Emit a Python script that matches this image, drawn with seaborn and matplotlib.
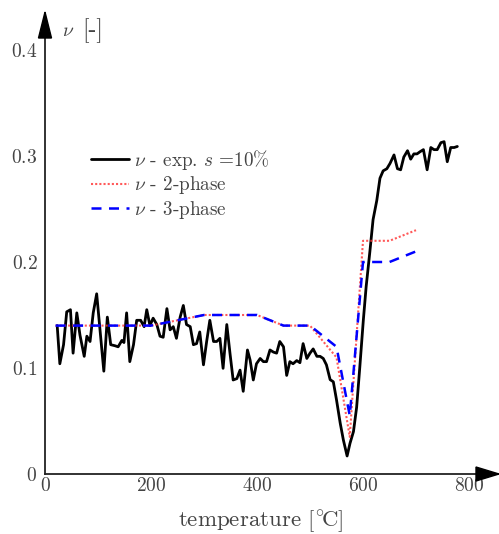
import numpy as np
import pandas as pd
import matplotlib
matplotlib.use("Agg")
import matplotlib.pyplot as plt
import seaborn as sns
from matplotlib.patches import Polygon
from matplotlib.ticker import MultipleLocator, FuncFormatter

# ---------------- data ----------------
exp_T = [23, 28, 35, 41, 48, 53, 60, 66, 74, 79, 85, 91, 97.5, 111, 117.6, 124, 132, 138,
         145, 149, 154, 160, 167, 173, 180.5, 187, 192, 198, 204, 211, 217, 223, 230, 236,
         242, 248, 255, 261, 267, 274, 280, 286, 292, 299, 305, 311, 318, 324, 330, 336,
         343, 349, 355, 362, 368, 374, 382, 387, 393, 399, 406, 412, 418, 424.5, 431, 437,
         443, 450, 456, 462, 468, 475, 481, 487, 494, 500, 506, 513, 519, 525, 531, 538,
         544, 550, 557, 563, 570, 575.5, 582, 588, 594, 600.6, 606, 613, 619, 626, 632,
         638, 645, 651, 658.5, 665, 671, 677, 684, 690, 696, 702, 707.5, 714, 721, 728,
         734, 740, 747, 753, 759, 765.5, 772, 778]
exp_nu = [0.140, 0.104, 0.122, 0.153, 0.155, 0.114, 0.152, 0.131, 0.111, 0.130, 0.125,
          0.152, 0.170, 0.097, 0.148, 0.122, 0.121, 0.120, 0.126, 0.124, 0.152, 0.106,
          0.122, 0.145, 0.145, 0.139, 0.155, 0.140, 0.147, 0.141, 0.130, 0.129, 0.156,
          0.136, 0.139, 0.128, 0.148, 0.159, 0.141, 0.139, 0.122, 0.123, 0.134, 0.103,
          0.125, 0.145, 0.125, 0.125, 0.128, 0.0997, 0.141, 0.114, 0.0887, 0.090, 0.098,
          0.078, 0.117, 0.1075, 0.0887, 0.104, 0.109, 0.106, 0.106, 0.117, 0.115, 0.114,
          0.125, 0.120, 0.093, 0.106, 0.104, 0.107, 0.105, 0.123, 0.109, 0.114, 0.118,
          0.111, 0.111, 0.109, 0.103, 0.089, 0.087, 0.070, 0.048, 0.032, 0.017, 0.029,
          0.040, 0.063, 0.101, 0.145, 0.177, 0.210, 0.240, 0.258, 0.279, 0.286, 0.288,
          0.293, 0.301, 0.288, 0.287, 0.299, 0.305, 0.297, 0.302, 0.302, 0.304, 0.306,
          0.287, 0.308, 0.306, 0.306, 0.3126, 0.3135, 0.2946, 0.308, 0.308, 0.309]

two_T = [20, 200, 300, 400, 450, 500, 550, 575, 600, 650, 700]
two_nu = [0.14, 0.14, 0.15, 0.15, 0.14, 0.14, 0.11, 0.035, 0.22, 0.22, 0.23]

three_T = [20, 200, 300, 400, 450, 500, 550, 575, 600, 650, 700]
three_nu = [0.14, 0.14, 0.15, 0.15, 0.14, 0.14, 0.12, 0.055, 0.20, 0.20, 0.21]

labels = [r"$\nu$ - exp. $s$ =10%", r"$\nu$ - 2-phase", r"$\nu$ - 3-phase"]
x_ticks = [0, 200, 400, 600, 800]
y_ticks = [0, 0.1, 0.2, 0.3, 0.4]

# ---------------- style ----------------
sns.set_style("white")
plt.rcParams["font.family"] = "serif"
plt.rcParams["font.serif"] = ["cmr10"]
plt.rcParams["mathtext.fontset"] = "cm"
plt.rcParams["axes.formatter.use_mathtext"] = True

TXT = "#444444"
W, H = 499, 534
fig = plt.figure(figsize=(W / 100, H / 100), dpi=100)

# axes: x=0 at px 45, 800 at px 469 ; y=0 at px 474, 0.4 at px 50
x_ppu = (469 - 45) / 800.0
y_ppu = (474 - 50) / 0.4
ax_left, ax_right = 45, 499
ax_bottom, ax_top = 474, 13
ax = fig.add_axes([ax_left / W, 1 - ax_bottom / H, (ax_right - ax_left) / W,
                   (ax_bottom - ax_top) / H])
ax.set_xlim(0, (ax_right - ax_left) / x_ppu)
ax.set_ylim(0, (ax_bottom - ax_top) / y_ppu)

sns.lineplot(x=exp_T, y=exp_nu, ax=ax, color="black", lw=2.0, label=labels[0])
sns.lineplot(x=two_T, y=two_nu, ax=ax, color="#ff3030", lw=1.5, ls=(0, (1, 1)),
             label=labels[1], alpha=0.8)
sns.lineplot(x=three_T, y=three_nu, ax=ax, color="#0000ff", lw=1.8, ls=(0, (4, 3)),
             label=labels[2])

for s in ["top", "right"]:
    ax.spines[s].set_visible(False)
for s in ["left", "bottom"]:
    ax.spines[s].set_color("#222222")
    ax.spines[s].set_linewidth(1.3)

ax.set_xticks(x_ticks)
ax.set_yticks(y_ticks)
ax.xaxis.set_minor_locator(MultipleLocator(100))
ax.yaxis.set_minor_locator(MultipleLocator(0.05))
ax.xaxis.set_major_formatter(FuncFormatter(lambda v, p: f"${v:g}$"))
ax.yaxis.set_major_formatter(FuncFormatter(lambda v, p: f"${v:g}$"))
ax.tick_params(which="major", direction="inout", length=7, width=1.0, color="#222222",
               labelsize=14, labelcolor=TXT)
ax.tick_params(which="minor", direction="inout", length=5, width=1.0, color="#222222")
ax.tick_params(axis="x", which="major", pad=-1)
ax.tick_params(axis="y", which="major", pad=2)
ax.set_xlabel("")
ax.set_ylabel("")

leg = ax.legend(loc="upper left", bbox_to_anchor=(91 / W, 1 - 148 / H),
                bbox_transform=fig.transFigure, frameon=False, fontsize=13.8,
                handlelength=2.0, handletextpad=0.25, borderpad=0, borderaxespad=0,
                labelspacing=0.12)
for t in leg.get_texts():
    t.set_color(TXT)

# arrow heads (pixel coordinates, origin bottom-left)
tr = fig.dpi_scale_trans
def px(x, y):
    return (x / 100.0, (H - y) / 100.0)
xarrow = Polygon([px(499, 474), px(476, 467), px(476, 481)], closed=True,
                 transform=tr, color="black", clip_on=False)
yarrow = Polygon([px(45, 12), px(38.5, 38), px(51.5, 38)], closed=True,
                 transform=tr, color="black", clip_on=False)
fig.add_artist(xarrow)
fig.add_artist(yarrow)

fig.text(62 / W, 1 - 31 / H, r"$\nu$", ha="left", va="center",
         fontsize=14, color=TXT)
fig.text(82 / W, 1 - 31 / H, "[-]", ha="left", va="center",
         fontsize=17, color=TXT)
fig.text(261 / W, 1 - 522 / H, r"temperature [$^{\circ}\!$C]", ha="center",
         va="center", fontsize=16.5, color=TXT)

fig.savefig("out.png", dpi=100)
